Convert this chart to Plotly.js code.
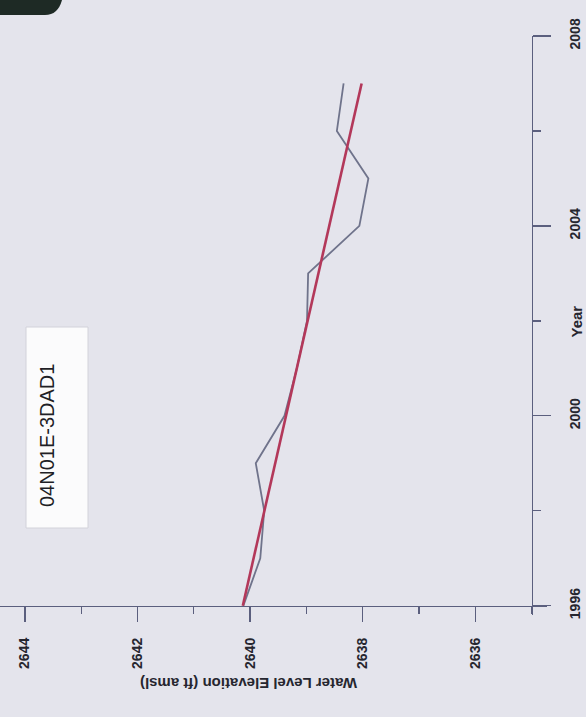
<!DOCTYPE html>
<html>
<head>
<meta charset="utf-8">
<script src="https://cdn.plot.ly/plotly-3.0.1.min.js"></script>
<style>
html,body{margin:0;padding:0;background:#e4e4ec;}
#chart{width:586px;height:717px;}
</style>
</head>
<body>
<div id="chart"></div>
<script>
// Data (chart is shown rotated 90°: elevation runs along the bottom, years up the right side)
const years = [1996, 1997, 1998, 1999, 2000, 2001, 2002, 2003, 2004, 2005, 2006, 2007];
const waterLevel = [2640.12, 2639.82, 2639.75, 2639.90, 2639.39, 2639.17, 2638.99, 2638.97, 2638.06, 2637.90, 2638.46, 2638.34];
const trendYears = [1996, 2007];
const trendLevel = [2640.13, 2638.02];
const wellName = "04N01E-3DAD1";
const elevationTitle = "Water Level Elevation (ft amsl)";
const yearTitle = "Year";

// geometry helpers (plot area: x 0..547 px, y 36..615 px)
const W = 586, H = 717, L = 0, R = 39, T = 36, B = 102;
const PW = W - L - R, PH = H - T - B;
const px = v => (v - L) / PW;
const py = v => (H - B - v) / PH;

const font = "Liberation Sans, Arial, Helvetica, sans-serif";
const axisColor = "#5b5f7e";
const textColor = "#26262f";

const traces = [
  {
    x: waterLevel, y: years, type: "scatter", mode: "lines",
    line: {color: "#6f738b", width: 1.8},
    hoverinfo: "skip"
  },
  {
    x: trendLevel, y: trendYears, type: "scatter", mode: "lines",
    line: {color: "#b3385a", width: 2.6},
    hoverinfo: "skip"
  }
];

const layout = {
  width: W, height: H,
  margin: {l: L, r: R, t: T, b: B, pad: 0},
  paper_bgcolor: "#e4e4ec",
  plot_bgcolor: "#e4e4ec",
  showlegend: false,
  font: {family: font, color: textColor},
  xaxis: {
    range: [2644.442, 2634.728],
    anchor: "free", position: (615 - 605.7) / PH, side: "bottom",
    showgrid: false, zeroline: false,
    showline: true, linecolor: axisColor, linewidth: 1.5,
    ticks: "outside", ticklen: 15, tickwidth: 1.3, tickcolor: axisColor,
    tick0: 2636, dtick: 2,
    minor: {dtick: 1, tick0: 2635, ticks: "outside", ticklen: 7, tickwidth: 1.3, tickcolor: axisColor, showgrid: false},
    tickangle: -90,
    ticklabelstandoff: 10,
    tickfont: {size: 14, weight: "bold", color: textColor, family: font}
  },
  yaxis: {
    range: [1995.804, 2008],
    anchor: "free", position: 531.7 / PW, side: "right",
    showgrid: false, zeroline: false,
    showline: true, linecolor: axisColor, linewidth: 1.5,
    ticks: "outside", ticklen: 18, tickwidth: 1.3, tickcolor: axisColor,
    tick0: 1996, dtick: 4,
    minor: {dtick: 2, tick0: 1996, ticks: "outside", ticklen: 8, tickwidth: 1.3, tickcolor: axisColor, showgrid: false},
    tickangle: -90,
    ticklabelstandoff: 12,
    tickfont: {size: 14, weight: "bold", color: textColor, family: font}
  },
  shapes: [
    {type: "rect", xref: "paper", yref: "paper",
     x0: px(26), x1: px(88), y0: py(528), y1: py(327),
     fillcolor: "#fbfbfc", line: {color: "#d2d2da", width: 1}, layer: "above"},
    {type: "path", xref: "paper", yref: "paper",
     path: `M ${px(0)} ${py(0)} L ${px(62)} ${py(0)} Q ${px(58)} ${py(15)} ${px(45)} ${py(15)} L ${px(0)} ${py(15)} Z`,
     fillcolor: "#1e2a25", line: {width: 0}, layer: "above"}
  ],
  annotations: [
    {text: wellName, xref: "paper", yref: "paper", x: px(47), y: py(436),
     xanchor: "center", yanchor: "middle", textangle: -90, showarrow: false,
     font: {size: 20, color: "#1f1f26", family: font}},
    {text: elevationTitle, xref: "paper", yref: "paper", x: px(249), y: py(683),
     xanchor: "center", yanchor: "middle", textangle: 180, showarrow: false,
     font: {size: 15, weight: "bold", color: textColor, family: font}},
    {text: yearTitle, xref: "paper", yref: "paper", x: px(576), y: py(321.5),
     xanchor: "center", yanchor: "middle", textangle: -90, showarrow: false,
     font: {size: 15, weight: "bold", color: textColor, family: font}}
  ]
};

Plotly.newPlot("chart", traces, layout, {displayModeBar: false, staticPlot: true});
</script>
</body>
</html>
